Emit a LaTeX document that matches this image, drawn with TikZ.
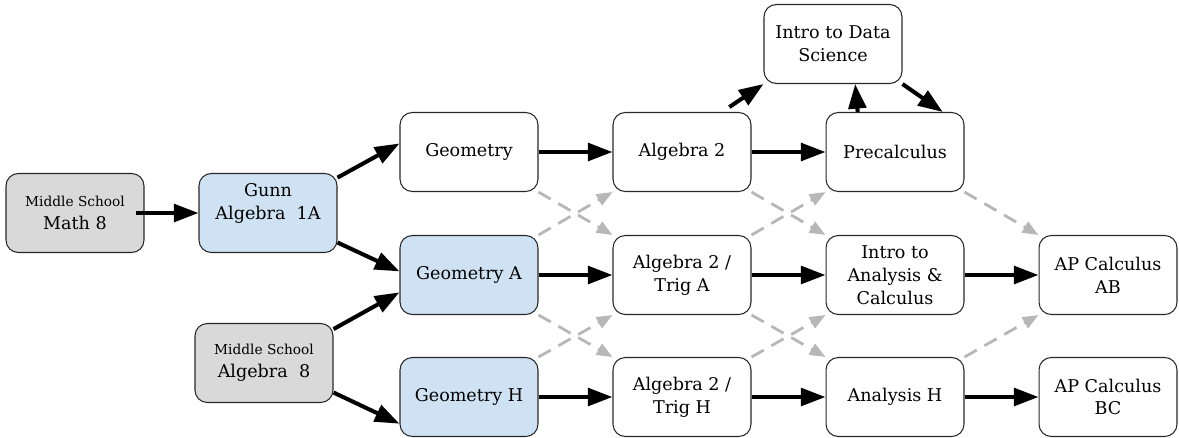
\documentclass[tikz,border=0pt]{standalone}
\usepackage{fontspec}
\setmainfont{DejaVu Serif}
\usepackage{tikz}
\usetikzlibrary{arrows.meta}
\definecolor{chalk}{RGB}{217, 217, 217}
\definecolor{gunnblue}{RGB}{207, 226, 243}
\definecolor{dashgray}{RGB}{183, 183, 183}
\definecolor{edge}{RGB}{40, 40, 40}

\begin{document}
\begin{tikzpicture}[x=0.02cm, y=-0.02cm,
    course/.style={draw=edge, line width=0.6pt, rounded corners=7pt, fill=white,
        minimum width=2.76cm, minimum height=1.58cm, inner sep=0pt,
        align=center, font=\fontsize{10}{13}\selectfont},
    middle/.style={course, fill=chalk},
    gunn/.style={course, fill=gunnblue},
    route/.style={line width=2.3pt, -{Triangle[length=14pt, width=10pt]}},
    switch/.style={dashgray, line width=1.6pt, dash pattern=on 8pt off 5pt,
        -{Triangle[length=9pt, width=7pt]}}]
    \useasboundingbox (0,0) rectangle (1179,437);

    % Starting points
    \node[middle] (math8) at (75,213) {{\fontsize{7.8}{9}\selectfont Middle School}\\Math 8};
    \node[middle] (alg8) at (264,363) {{\fontsize{7.8}{9}\selectfont Middle School}\\Algebra~~8};
    \node[gunn] (alg1a) at (268,213) {Gunn\\Algebra~~1A\\~};

    % Geometry column
    \node[course] (geo) at (469,152) {Geometry};
    \node[gunn] (geoA) at (469,275) {Geometry A};
    \node[gunn] (geoH) at (469,397) {Geometry H};

    % Algebra 2 column
    \node[course] (alg2) at (682,152) {Algebra 2};
    \node[course] (trigA) at (682,275) {Algebra 2 /\\Trig A};
    \node[course] (trigH) at (682,397) {Algebra 2 /\\Trig H};

    % Precalculus column
    \node[course] (data) at (833,44) {Intro to Data\\Science};
    \node[course] (precalc) at (895,152) {Precalculus};
    \node[course] (ica) at (895,275) {Intro to\\Analysis \&\\Calculus};
    \node[course] (anaH) at (895,397) {Analysis H};

    % AP
    \node[course] (apAB) at (1108,275) {AP Calculus\\AB};
    \node[course] (apBC) at (1108,397) {AP Calculus\\BC};

    % Main routes
    \draw[route, shorten <=-5pt] (math8.east) -- (alg1a.west);
    \draw[route] (alg1a.27) -- (geo.173);
    \draw[route] (alg1a.-23) -- (geoA.177);
    \draw[route] (alg8.26) -- (geoA.194);
    \draw[route] (alg8.-23) -- (geoH.201);
    \draw[route] (geo) -- (alg2);
    \draw[route] (geoA) -- (trigA);
    \draw[route] (geoH) -- (trigH);
    \draw[route] (alg2) -- (precalc);
    \draw[route] (trigA) -- (ica);
    \draw[route] (trigH) -- (anaH);
    \draw[route] (ica) -- (apAB);
    \draw[route] (anaH) -- (apBC);
    \draw[route, shorten <=5pt] (alg2.45) -- (data.south west);
    \draw[route] (precalc.133) -- (data.-61);
    \draw[route] (data.south east) -- (precalc.40);

    % Switching between levels
    \draw[switch] (geo.south east) -- (trigA.north west);
    \draw[switch] (geoA.north east) -- (alg2.south west);
    \draw[switch] (geoA.south east) -- (trigH.north west);
    \draw[switch] (geoH.north east) -- (trigA.south west);
    \draw[switch] (alg2.south east) -- (ica.north west);
    \draw[switch] (trigA.north east) -- (precalc.south west);
    \draw[switch] (trigA.south east) -- (anaH.north west);
    \draw[switch] (trigH.north east) -- (ica.south west);
    \draw[switch] (precalc.south east) -- (apAB.north west);
    \draw[switch] (anaH.north east) -- (apAB.south west);
\end{tikzpicture}
\end{document}
